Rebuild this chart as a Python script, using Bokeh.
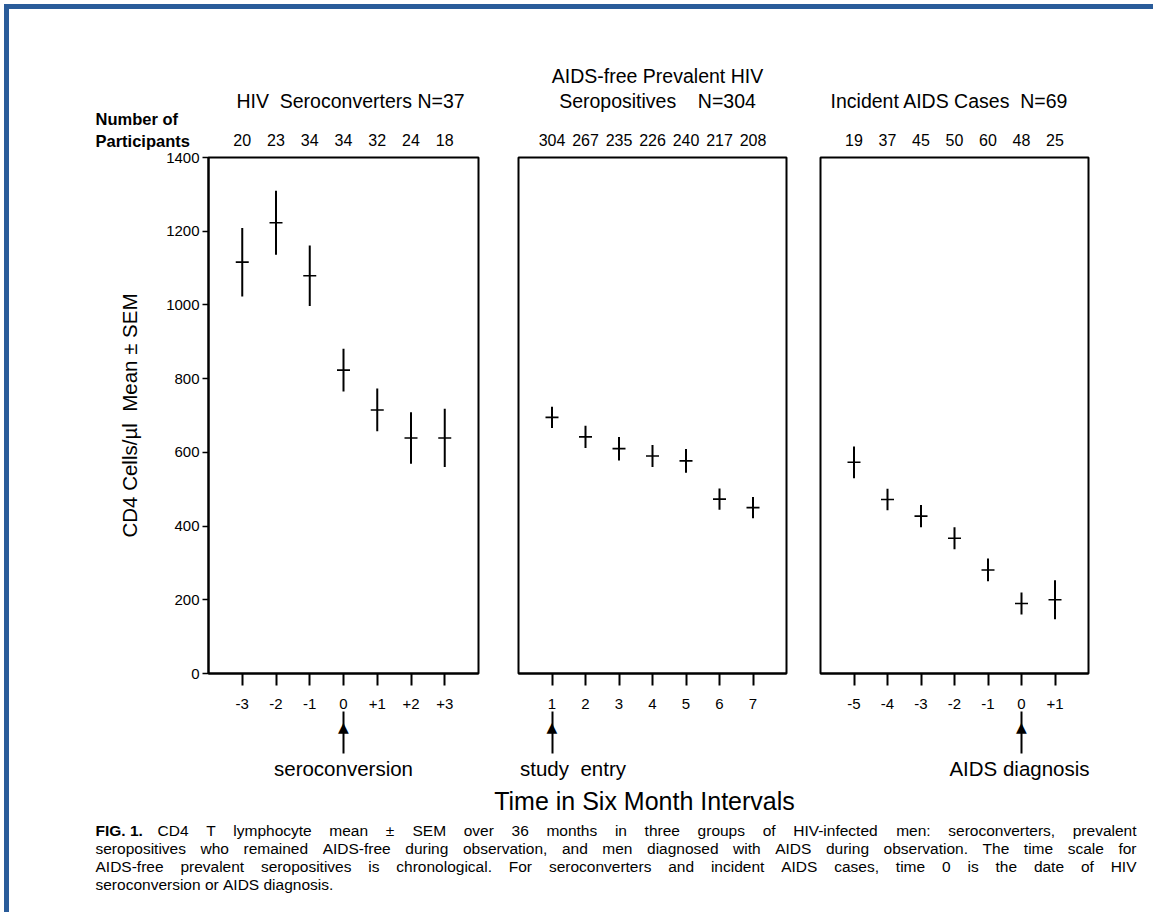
from bokeh.plotting import figure
from bokeh.models import (Range1d, Label, ColumnDataSource, FixedTicker, LinearAxis, Div)
from bokeh.layouts import column, row
from bokeh.embed import file_html
from bokeh.resources import INLINE
from bokeh.core.properties import value

# ---------------- data ----------------
sc_x = [-3, -2, -1, 0, 1, 2, 3]
sc_ticklabels = ["-3", "-2", "-1", "0", "+1", "+2", "+3"]
sc_n = [20, 23, 34, 34, 32, 24, 18]
sc_mean = [1116, 1223, 1079, 823, 715, 639, 639]
sc_sem = [93, 87, 82, 58, 58, 70, 79]

pv_x = [1, 2, 3, 4, 5, 6, 7]
pv_ticklabels = ["1", "2", "3", "4", "5", "6", "7"]
pv_n = [304, 267, 235, 226, 240, 217, 208]
pv_mean = [695, 642, 610, 590, 577, 473, 450]
pv_sem = [29, 30, 32, 30, 32, 29, 29]

ai_x = [-5, -4, -3, -2, -1, 0, 1]
ai_ticklabels = ["-5", "-4", "-3", "-2", "-1", "0", "+1"]
ai_n = [19, 37, 45, 50, 60, 48, 25]
ai_mean = [573, 472, 427, 367, 281, 190, 200]
ai_sem = [43, 29, 30, 30, 31, 30, 53]

y_ticks = [0, 200, 400, 600, 800, 1000, 1200, 1400]

NB = "\u00a0"
titles = {
    "sc": ["HIV" + NB + " Seroconverters N=37"],
    "pv": ["AIDS-free Prevalent HIV", "Seropositives" + NB * 3 + " N=304"],
    "ai": ["Incident AIDS Cases" + NB + " N=69"],
}
title_dx = {"sc": 7, "pv": 5, "ai": -5}
events = {"sc": (0, "seroconversion"), "pv": (1, "study" + NB + " entry"), "ai": (0, "AIDS diagnosis")}

caption_lines = [
    "CD4 T lymphocyte mean \u00b1 SEM over 36 months in three groups of HIV-infected men: seroconverters, prevalent",
    "seropositives who remained AIDS-free during observation, and men diagnosed with AIDS during observation. The time scale for",
    "AIDS-free prevalent seropositives is chronological. For seroconverters and incident AIDS cases, time 0 is the date of HIV",
    "seroconversion or AIDS diagnosis.",
]

FONT = "Liberation Sans"
BLUE = "#2a5c9a"
H = 776
FRAME_TOP = 148
FRAME_BOTTOM = 112


def y_at(px_above_zero):
    # pixel distance from the zero line (frame height 516 px) -> data units
    return px_above_zero * 1400.0 / 516.0


def panel(key, xs, tlabels, ns, means, sems, xr, width, bl, br, show_y, ev_dx):
    p = figure(width=width, height=H, x_range=Range1d(*xr), y_range=Range1d(0, 1400),
               output_backend="svg", toolbar_location=None,
               min_border_left=bl, min_border_right=br,
               min_border_top=FRAME_TOP, min_border_bottom=FRAME_BOTTOM,
               y_axis_location="left" if show_y else None)
    p.xgrid.visible = False
    p.ygrid.visible = False
    p.outline_line_color = "black"
    p.outline_line_width = 2
    p.background_fill_color = "white"
    p.border_fill_color = "white"

    ax = p.xaxis[0]
    ax.ticker = FixedTicker(ticks=xs)
    ax.major_label_overrides = {x: t for x, t in zip(xs, tlabels)}
    ax.minor_tick_line_color = None
    ax.major_tick_out = 12
    ax.major_tick_in = 0
    ax.major_tick_line_width = 2
    ax.axis_line_width = 2
    ax.major_label_standoff = 13
    ax.major_label_text_font = FONT
    ax.major_label_text_font_size = "15px"
    ax.major_label_text_color = "black"

    if show_y:
        ay = p.yaxis[0]
        ay.ticker = FixedTicker(ticks=y_ticks)
        ay.minor_tick_line_color = None
        ay.major_tick_out = 6
        ay.major_tick_in = 0
        ay.major_tick_line_width = 1.5
        ay.axis_line_width = 2
        ay.major_label_standoff = 3
        ay.major_label_text_font = FONT
        ay.major_label_text_font_size = "15px"
        ay.major_label_text_color = "black"
        ay.axis_label = "CD4 Cells/\u00b5l" + NB + " Mean \u00b1 SEM"
        ay.axis_label_text_font = FONT
        ay.axis_label_text_font_size = "20.5px"
        ay.axis_label_text_font_style = "normal"
        ay.axis_label_text_color = "black"
        ay.axis_label_standoff = 22

    lo = [m - s for m, s in zip(means, sems)]
    hi = [m + s for m, s in zip(means, sems)]
    src = ColumnDataSource(dict(x=xs, mean=means, lo=lo, hi=hi))
    p.segment(x0="x", y0="lo", x1="x", y1="hi", source=src, line_color="black", line_width=2)
    p.scatter(x="x", y="mean", source=src, marker="dash", size=13, line_color="black", line_width=1.6)

    # number of participants: an axis above the frame
    ca = LinearAxis(ticker=FixedTicker(ticks=xs),
                    major_label_overrides={x: str(n) for x, n in zip(xs, ns)})
    ca.axis_line_color = None
    ca.major_tick_line_color = None
    ca.minor_tick_line_color = None
    ca.major_label_standoff = 6
    ca.major_label_text_font = FONT
    ca.major_label_text_font_size = "16px"
    ca.major_label_text_color = "black"
    p.add_layout(ca, "above")

    # title(s)
    cx = (xr[0] + xr[1]) / 2
    lines = titles[key]
    for i, t in enumerate(reversed(lines)):
        p.add_layout(Label(x=cx, x_offset=title_dx[key], y=y_at(573 + 25 * i), text=t,
                           text_align="center", text_baseline="middle", text_font=FONT,
                           text_font_size="19.5px", text_color="black"), "above")

    # event marker: shaft = tick of a second axis below, head = triangle label
    ex, etext = events[key]
    ea = LinearAxis(ticker=FixedTicker(ticks=[ex]), major_label_overrides={ex: " "})
    ea.axis_line_color = None
    ea.minor_tick_line_color = None
    ea.major_tick_out = 42
    ea.major_tick_in = 0
    ea.major_tick_line_width = 2
    ea.major_tick_line_color = "black"
    ea.major_label_standoff = 0
    ea.major_label_text_font_size = "2px"
    p.add_layout(ea, "below")
    p.add_layout(Label(x=ex, y=y_at(-53), text="\u25b2", text_align="center",
                       text_baseline="middle", text_font="DejaVu Sans", text_font_size="14px",
                       text_color="black"), "below")
    p.add_layout(Label(x=ex, x_offset=ev_dx, y=y_at(-95), text=etext, text_align="center",
                       text_baseline="middle", text_font=FONT, text_font_size="20.5px",
                       text_color="black"), "above")
    return p


p1 = panel("sc", sc_x, sc_ticklabels, sc_n, sc_mean, sc_sem, (-4, 4), 489, 199, 20, True, 0)
p2 = panel("pv", pv_x, pv_ticklabels, pv_n, pv_mean, pv_sem, (0, 8), 305, 20, 17, False, 21)
p3 = panel("ai", ai_x, ai_ticklabels, ai_n, ai_mean, ai_sem, (-6, 2), 346, 17, 61, False, -2)

# "Number of Participants"
p1.add_layout(Label(x=-4, x_offset=-113, y=y_at(555), text="Number of", text_align="left",
                    text_baseline="middle", text_font=FONT, text_font_size="16.5px",
                    text_font_style="bold", text_color="black"), "above")
p1.add_layout(Label(x=-4, x_offset=-113, y=y_at(533), text="Participants", text_align="left",
                    text_baseline="middle", text_font=FONT, text_font_size="16.5px",
                    text_font_style="bold", text_color="black"), "above")

# ---------------- bottom: axis title and caption ----------------
BW, BH = 1140, 124
pb = figure(width=BW, height=BH, x_range=Range1d(0, BW), y_range=Range1d(BH, 0),
            output_backend="svg", toolbar_location=None, min_border=0,
            x_axis_location=None, y_axis_location=None)
pb.xgrid.visible = False
pb.ygrid.visible = False
pb.outline_line_color = None
pb.border_fill_color = "white"

pb.text(x=[635], y=[15], text=["Time in Six Month Intervals"], text_align="center",
        text_baseline="middle", text_font=value(FONT), text_font_size="25px", text_color="black")

# Arial / Liberation Sans advance widths (1/1000 em) used to justify the caption lines
ADV = {' ': 278, ',': 278, '-': 333, '.': 278, '/': 278, ':': 278, '\u00b1': 584, '=': 584,
       'A': 667, 'C': 722, 'D': 722, 'E': 667, 'F': 611, 'G': 778, 'H': 722, 'I': 278,
       'M': 833, 'N': 722, 'O': 778, 'S': 667, 'T': 611, 'V': 667,
       'a': 556, 'b': 556, 'c': 500, 'd': 556, 'e': 556, 'f': 278, 'g': 556, 'h': 556,
       'i': 222, 'j': 222, 'k': 500, 'l': 222, 'm': 833, 'n': 556, 'o': 556, 'p': 556,
       'q': 556, 'r': 333, 's': 500, 't': 278, 'u': 556, 'v': 500, 'w': 722, 'x': 500,
       'y': 500, 'z': 500}
CAP_FS = 15.5


def justify(line, x0, x1, fs):
    words = line.split()
    widths = [sum(ADV.get(c, 556) for c in w) * fs / 1000.0 for w in words]
    if x1 is None or len(words) < 2:
        gap = 278 * fs / 1000.0
    else:
        gap = (x1 - x0 - sum(widths)) / (len(words) - 1)
    xs, x = [], x0
    for w in widths:
        xs.append(x)
        x += w + gap
    return words, xs


cap_y = [45, 63, 81, 99]
cap_left = [148, 86, 86, 86]
cap_right = [1127, 1127, 1127, None]
wx, wy, wt = [], [], []
for line, y, x0, x1 in zip(caption_lines, cap_y, cap_left, cap_right):
    words, xs = justify(line, x0, x1, CAP_FS)
    wx += xs
    wy += [y] * len(words)
    wt += words
pb.text(x=wx, y=wy, text=wt, text_align="left", text_baseline="middle",
        text_font=value(FONT), text_font_size=f"{CAP_FS}px", text_color="black")
pb.text(x=[86], y=[cap_y[0]], text=["FIG. 1."], text_align="left", text_baseline="middle",
        text_font=value(FONT), text_font_size=f"{CAP_FS}px", text_font_style="bold",
        text_color="black")

# ---------------- blue frame strips (plain coloured boxes, no text) ----------------
left_strip = Div(text="", width=5, height=5 + H + BH + 3, margin=0,
                 styles={"background-color": BLUE})
top_strip = Div(text="", width=BW + 4, height=5, margin=0,
                styles={"background-color": BLUE})

layout = row(left_strip, column(top_strip, row(p1, p2, p3), pb),
             styles={"margin-left": "4px", "margin-top": "4px"})

open("out.html", "w").write(file_html(layout, INLINE))
